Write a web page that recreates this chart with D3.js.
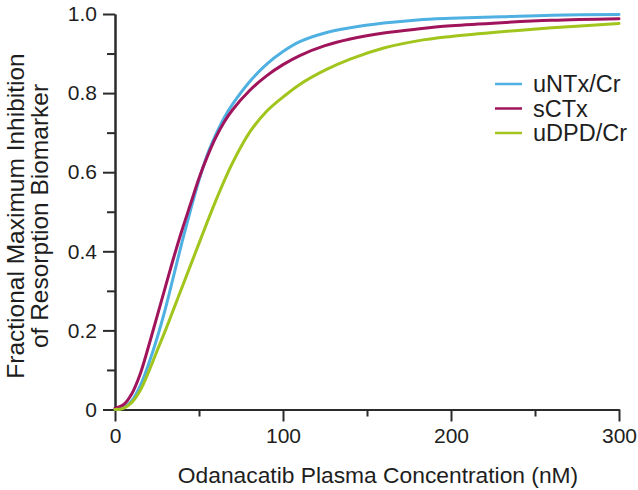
<!DOCTYPE html>
<html>
<head>
<meta charset="utf-8">
<script src="https://cdn.jsdelivr.net/npm/d3@7"></script>
<style>
  html, body { margin: 0; padding: 0; background: #fff; }
  svg { display: block; font-family: "Liberation Sans", Arial, Helvetica, sans-serif; }
</style>
</head>
<body>
<svg id="chart" width="638" height="490"></svg>
<script>
// ---- data ----
const concentration = [0, 5, 10, 15, 20, 25, 30, 35, 40, 45, 50, 55, 60, 65, 70, 80, 90, 100, 110, 125, 140, 160, 180, 200, 230, 260, 300];
const uNTxCr = [0, 0.004, 0.022, 0.06, 0.115, 0.18, 0.255, 0.34, 0.425, 0.505, 0.58, 0.645, 0.695, 0.738, 0.772, 0.828, 0.872, 0.905, 0.93, 0.952, 0.965, 0.977, 0.985, 0.989, 0.993, 0.997, 0.999];
const sCTx   = [0.003, 0.012, 0.04, 0.09, 0.16, 0.235, 0.31, 0.385, 0.455, 0.52, 0.585, 0.64, 0.688, 0.727, 0.758, 0.806, 0.843, 0.872, 0.895, 0.920, 0.937, 0.952, 0.962, 0.970, 0.978, 0.984, 0.988];
const uDPDCr = [0, 0.003, 0.018, 0.048, 0.095, 0.148, 0.2, 0.255, 0.31, 0.365, 0.42, 0.475, 0.528, 0.578, 0.624, 0.70, 0.753, 0.79, 0.822, 0.858, 0.886, 0.914, 0.932, 0.943, 0.955, 0.965, 0.976];

const seriesNames = ["uNTx/Cr", "sCTx", "uDPD/Cr"];
const seriesValues = [uNTxCr, sCTx, uDPDCr];
const seriesColors = ["#4fb0e2", "#a0145c", "#a2c51e"];

const xMajorTicks = [0, 100, 200, 300];
const xMinorTicks = [50, 150, 250];
const yMajorTicks = [0, 0.2, 0.4, 0.6, 0.8, 1.0];
const yMinorTicks = [0.1, 0.3, 0.5, 0.7, 0.9];

const xTitle = "Odanacatib Plasma Concentration (nM)";
const yTitleLines = ["Fractional Maximum Inhibition", "of Resorption Biomarker"];

// ---- drawing ----
const svg = d3.select("#chart");
const x = d3.scaleLinear().domain([0, 300]).range([115, 619]);
const y = d3.scaleLinear().domain([0, 1]).range([409.5, 14]);
const axisColor = "#2b2b2b";

function styleAxis(g) {
  g.selectAll("path.domain").attr("stroke", axisColor).attr("stroke-width", 2);
  g.selectAll(".tick line").attr("stroke", axisColor).attr("stroke-width", 2);
  g.selectAll(".tick text").attr("fill", "#1e1e1e").attr("font-size", 21)
    .attr("font-family", "'Liberation Sans', Arial, sans-serif");
}

// minor ticks first
svg.append("g").attr("transform", `translate(0,${y(0)})`)
  .call(d3.axisBottom(x).tickValues(xMinorTicks).tickSize(7).tickSizeOuter(0).tickFormat(""))
  .call(styleAxis);
svg.append("g").attr("transform", `translate(${x(0)},0)`)
  .call(d3.axisLeft(y).tickValues(yMinorTicks).tickSize(8).tickSizeOuter(0).tickFormat(""))
  .call(styleAxis);

// major ticks with labels
svg.append("g").attr("transform", `translate(0,${y(0)})`)
  .call(d3.axisBottom(x).tickValues(xMajorTicks).tickSize(12).tickSizeOuter(0).tickPadding(7).tickFormat(d3.format("d")))
  .call(styleAxis);
svg.append("g").attr("transform", `translate(${x(0)},0)`)
  .call(d3.axisLeft(y).tickValues(yMajorTicks).tickSize(12).tickSizeOuter(0).tickPadding(6)
    .tickFormat(d => d === 0 ? "0" : d3.format(".1f")(d)))
  .call(styleAxis);

// curves
const line = d3.line()
  .x((d, i) => x(concentration[i]))
  .y(d => y(d))
  .curve(d3.curveCatmullRom.alpha(0.5));

seriesValues.forEach((vals, k) => {
  svg.append("path")
    .datum(vals)
    .attr("fill", "none")
    .attr("stroke", seriesColors[k])
    .attr("stroke-width", 3)
    .attr("stroke-linejoin", "round")
    .attr("stroke-linecap", "round")
    .attr("d", line);
});

// legend
const legend = svg.append("g").attr("transform", "translate(495,84)");
seriesNames.forEach((name, k) => {
  const row = legend.append("g").attr("transform", `translate(0,${k * 24.5})`);
  row.append("line").attr("x1", 0).attr("x2", 27).attr("y1", 0).attr("y2", 0)
    .attr("stroke", seriesColors[k]).attr("stroke-width", 2.5);
  row.append("text").attr("x", 38).attr("y", 0).attr("dy", "0.35em")
    .attr("font-size", 23.5).attr("fill", "#1e1e1e").text(name);
});

// axis titles
svg.append("text")
  .attr("x", 378).attr("y", 483)
  .attr("text-anchor", "middle")
  .attr("font-size", 22.8).attr("fill", "#1e1e1e")
  .text(xTitle);

yTitleLines.forEach((t, i) => {
  svg.append("text")
    .attr("transform", `translate(${23.5 + i * 24.5},216) rotate(-90)`)
    .attr("text-anchor", "middle")
    .attr("font-size", 24.5).attr("fill", "#1e1e1e")
    .text(t);
});
</script>
</body>
</html>
